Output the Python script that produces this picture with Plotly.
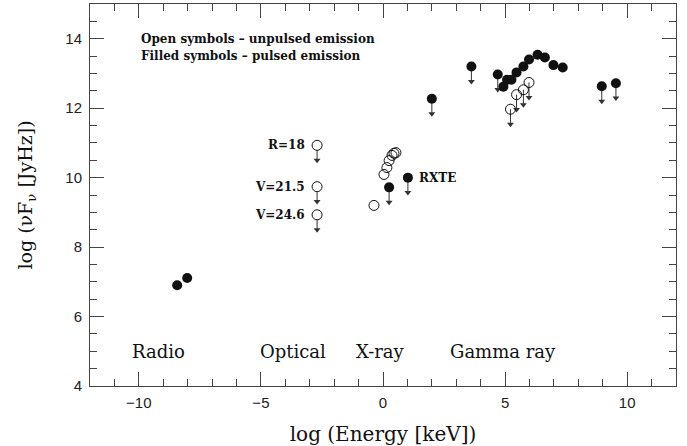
import plotly.graph_objects as go

# ---- data (log Energy [keV], log nuF_nu [JyHz]) ----
radio_x = [-8.43, -8.02]
radio_y = [6.90, 7.11]

optical_x = [-2.70, -2.70, -2.70]
optical_y = [10.93, 9.74, 8.93]
optical_labels = ["R=18", "V=21.5", "V=24.6"]

xray_open_x = [-0.37, 0.04, 0.16, 0.25, 0.37, 0.45, 0.53]
xray_open_y = [9.20, 10.09, 10.29, 10.49, 10.64, 10.70, 10.72]

filled_lim_x = [0.25, 1.02, 2.00, 3.62, 4.70, 8.96, 9.54]
filled_lim_y = [9.72, 10.00, 12.27, 13.20, 12.97, 12.63, 12.72]

gamma_x = [4.93, 5.08, 5.26, 5.47, 5.75, 5.98, 6.33, 6.63, 6.98, 7.36]
gamma_y = [12.62, 12.82, 12.82, 13.03, 13.20, 13.40, 13.54, 13.46, 13.24, 13.17]

open_lim_x = [5.22, 5.47, 5.75, 5.98]
open_lim_y = [11.97, 12.39, 12.53, 12.74]

region_labels = ["Radio", "Optical", "X-ray", "Gamma ray"]
region_x = [-9.2, -3.7, -0.1, 4.9]
region_y = [5.0, 5.0, 5.0, 5.0]

legend_lines = ["Open symbols \u2013 unpulsed emission", "Filled symbols \u2013 pulsed emission"]
legend_y = [14.0, 13.5]
legend_x = -10.0

rxte_label = "RXTE"

arrow_len = 0.5
head_offset = 0.07

SERIF = "DejaVu Serif"
INK = "#111111"
ARROW = "#333333"

fig = go.Figure()

open_marker = dict(symbol="circle-open", size=10, color=INK, line=dict(width=1, color=INK))
filled_marker = dict(symbol="circle", size=10, color=INK)

# upper-limit arrows: shafts + heads, built from the limit arrays
lim_x = optical_x + filled_lim_x + open_lim_x
lim_y = optical_y + filled_lim_y + open_lim_y
shaft_x, shaft_y = [], []
for x, y in zip(lim_x, lim_y):
    shaft_x += [x, x, None]
    shaft_y += [y, y - arrow_len + head_offset, None]
fig.add_trace(go.Scatter(x=shaft_x, y=shaft_y, mode="lines",
                         line=dict(color=ARROW, width=1), hoverinfo="skip"))
fig.add_trace(go.Scatter(x=lim_x, y=[y - arrow_len + head_offset for y in lim_y], mode="markers",
                         marker=dict(symbol="triangle-down", size=6, color=ARROW,
                                     line=dict(width=0)), hoverinfo="skip"))

fig.add_trace(go.Scatter(x=radio_x, y=radio_y, mode="markers", marker=filled_marker))
fig.add_trace(go.Scatter(x=optical_x, y=optical_y, mode="markers",
                         marker=dict(symbol="circle", size=10, color="white", line=dict(width=1, color=INK))))
fig.add_trace(go.Scatter(x=xray_open_x, y=xray_open_y, mode="markers", marker=open_marker))
fig.add_trace(go.Scatter(x=filled_lim_x, y=filled_lim_y, mode="markers", marker=filled_marker))
fig.add_trace(go.Scatter(x=gamma_x, y=gamma_y, mode="markers", marker=filled_marker))
fig.add_trace(go.Scatter(x=open_lim_x, y=open_lim_y, mode="markers", marker=open_marker))

annotations = []
for x, y, t in zip(optical_x, optical_y, optical_labels):
    annotations.append(dict(x=x - 0.4, y=y, text="<b>" + t + "</b>", showarrow=False,
                            xanchor="right", yanchor="middle",
                            font=dict(family=SERIF, size=12, color=INK)))

annotations.append(dict(x=filled_lim_x[1] + 0.37, y=filled_lim_y[1], text="<b>" + rxte_label + "</b>",
                        showarrow=False, xanchor="left", yanchor="middle",
                        font=dict(family=SERIF, size=12, color=INK)))

for x, y, t in zip(region_x, region_y, region_labels):
    annotations.append(dict(x=x, y=y, text=t, showarrow=False, xanchor="center", yanchor="middle",
                            font=dict(family=SERIF, size=18, color=INK)))

for y, t in zip(legend_y, legend_lines):
    annotations.append(dict(x=legend_x, y=y, text="<b>" + t + "</b>", showarrow=False,
                            xanchor="left", yanchor="middle",
                            font=dict(family=SERIF, size=12, color=INK)))

axis_common = dict(
    showline=True, linecolor="#444444", linewidth=1, mirror="ticks",
    ticks="inside", ticklen=14, tickcolor="#444444", tickwidth=1,
    showgrid=False, zeroline=False,
    tickfont=dict(family="Liberation Sans", size=15, color="#222222"),
)

fig.update_layout(
    width=687, height=446,
    margin=dict(l=90, r=11, t=4, b=60),
    paper_bgcolor="white", plot_bgcolor="white",
    showlegend=False,
    annotations=annotations,
    xaxis=dict(range=[-12, 12], dtick=5, tick0=0,
               minor=dict(dtick=1, ticks="inside", ticklen=7, tickcolor="#444444"),
               title=dict(text="log (Energy [keV])", font=dict(family=SERIF, size=20, color=INK), standoff=16),
               ticklabelstandoff=3,
               **axis_common),
    yaxis=dict(range=[4, 15], dtick=2, tick0=0,
               minor=dict(dtick=0.5, ticks="inside", ticklen=7, tickcolor="#444444"),
               title=dict(text="log (\u03bdF<sub>\u03bd</sub> [JyHz])", font=dict(family=SERIF, size=19, color=INK), standoff=27),
               ticklabelstandoff=4,
               **axis_common),
)

fig.write_html("out.html", config={"displayModeBar": False},
               post_script="document.body.style.margin='0px';")
